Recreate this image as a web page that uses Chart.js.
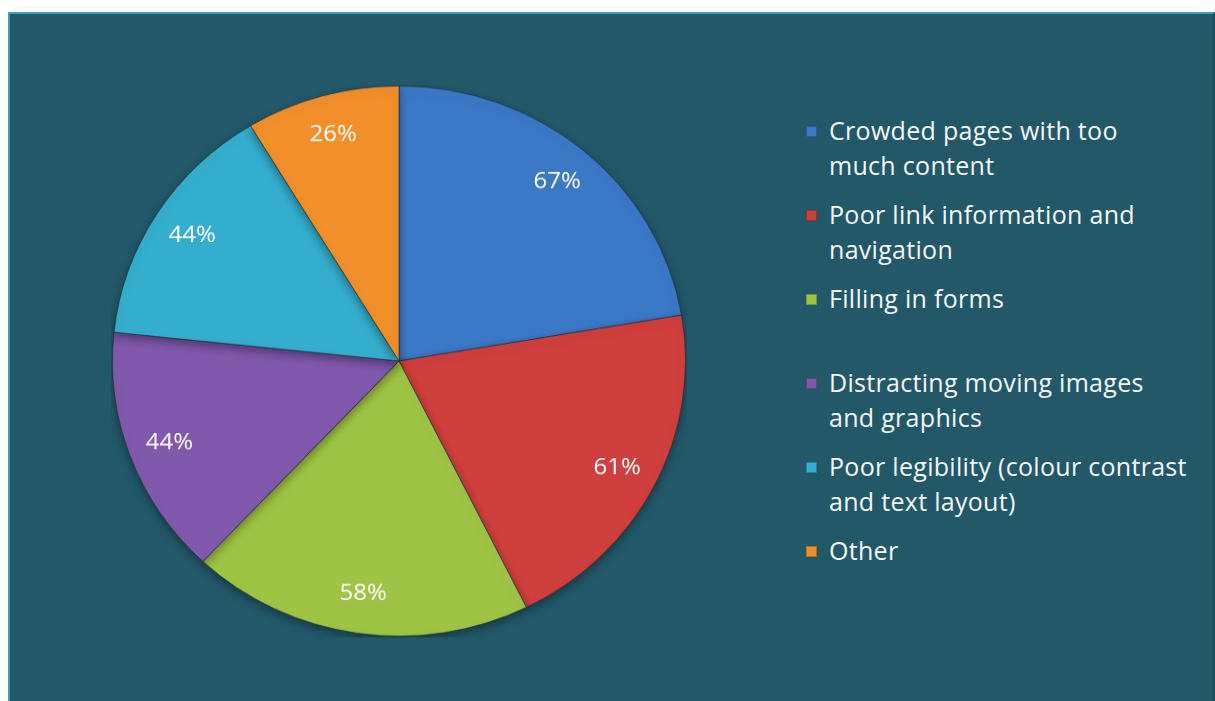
<!DOCTYPE html>
<html lang="en">
<head>
<meta charset="UTF-8">
<title>Website problems</title>
<script src="https://cdn.jsdelivr.net/npm/chart.js"></script>
<style>
    html, body { margin: 0; padding: 0; background: #ffffff; }
    body { width: 1215px; height: 701px; overflow: hidden; position: relative; font-family: "Open Sans", "Noto Sans", sans-serif; }
    .panel {
        position: absolute; left: 8px; top: 12px; width: 1203px; height: 700px;
        background: #225868;
        border-top: 2px solid #3c9fbe; border-left: 2px solid #3c9fbe; border-right: 2px solid #1d4c5a;
    }
    .pie-wrap {
        position: absolute; left: 111px; top: 73px; width: 576px; height: 576px;
        transform: scaleY(0.96); transform-origin: 50% 50%;
    }
    .legend { position: absolute; left: 800px; top: 113px; margin: 0; padding: 0; list-style: none; }
    .legend li { position: relative; height: 84px; padding-left: 29px; color: #f4f7f8; font-size: 25px; letter-spacing: 0.3px; line-height: 35px; }
    .legend li span.box {
        position: absolute; left: 6px; top: 13px; width: 11px; height: 11px;
        box-shadow: inset 0 0 0 1px rgba(0,0,0,0.25);
    }
</style>
</head>
<body>
<div class="panel"></div>
<div class="pie-wrap"><canvas id="pie" width="576" height="576"></canvas></div>
<ul class="legend" id="legend"></ul>

<script>
    // Categories (already split into legend lines) and their shares
    const categories = [
        ['Crowded pages with too', 'much content'],
        ['Poor link information and', 'navigation'],
        ['Filling in forms'],
        ['Distracting moving images', 'and graphics'],
        ['Poor legibility (colour contrast', 'and text layout)'],
        ['Other']
    ];
    const shares = [67, 61, 58, 44, 44, 26];
    const sliceColors = ['#3b78c6', '#cf3f3d', '#9fc445', '#8159ac', '#35aecd', '#f18f2a'];

    // Percent text placed inside each slice, near the rim
    const sliceLabels = {
        id: 'sliceLabels',
        afterDatasetsDraw(chart) {
            const ctx = chart.ctx;
            const meta = chart.getDatasetMeta(0);
            ctx.save();
            ctx.fillStyle = '#ffffff';
            ctx.font = '24px "Open Sans", "Noto Sans", sans-serif';
            ctx.textAlign = 'center';
            ctx.textBaseline = 'middle';
            meta.data.forEach((arc, i) => {
                const p = arc.getProps(['x', 'y', 'startAngle', 'endAngle', 'outerRadius']);
                const mid = (p.startAngle + p.endAngle) / 2;
                const r = p.outerRadius * 0.855;
                ctx.fillText(shares[i] + '%', p.x + Math.cos(mid) * r, p.y + Math.sin(mid) * r);
            });
            ctx.restore();
        }
    };

    // Soft shadow under the pie
    const pieShadow = {
        id: 'pieShadow',
        beforeDatasetsDraw(chart) {
            const ctx = chart.ctx;
            ctx.save();
            ctx.shadowColor = 'rgba(0,0,0,0.35)';
            ctx.shadowBlur = 10;
            ctx.shadowOffsetY = 4;
        },
        afterDatasetsDraw(chart) {
            chart.ctx.restore();
        }
    };

    new Chart(document.getElementById('pie'), {
        type: 'pie',
        data: {
            labels: categories,
            datasets: [{
                data: shares,
                backgroundColor: sliceColors,
                borderColor: 'rgba(20,40,50,0.55)',
                borderWidth: 1
            }]
        },
        options: {
            responsive: false,
            animation: false,
            layout: { padding: 1 },
            plugins: {
                legend: { display: false },
                tooltip: { enabled: false }
            }
        },
        plugins: [pieShadow, sliceLabels]
    });

    // Legend on the right
    const legend = document.getElementById('legend');
    categories.forEach((lines, i) => {
        const li = document.createElement('li');
        const box = document.createElement('span');
        box.className = 'box';
        box.style.background = sliceColors[i];
        li.appendChild(box);
        lines.forEach((line, k) => {
            if (k) li.appendChild(document.createElement('br'));
            li.appendChild(document.createTextNode(line));
        });
        legend.appendChild(li);
    });
</script>
</body>
</html>
